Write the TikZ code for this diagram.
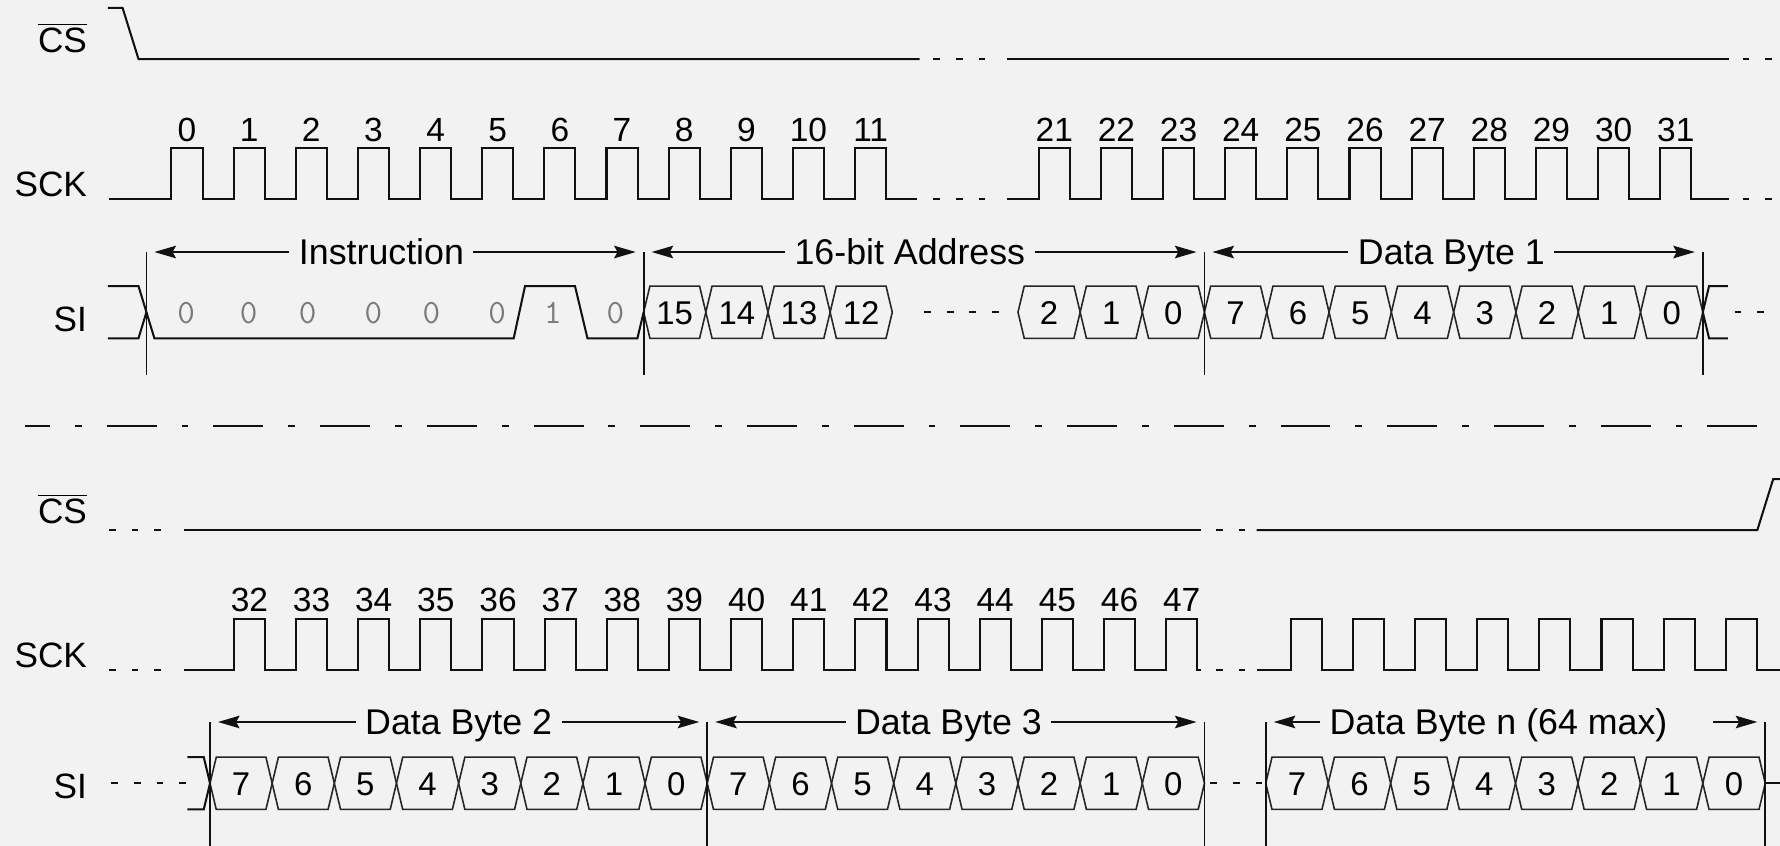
\documentclass[tikz,border=0pt]{standalone}
\usepackage{fontspec}
\setmainfont{Liberation Sans}
\usetikzlibrary{arrows.meta}

\definecolor{bg}{HTML}{F2F2F2}
\definecolor{ink}{HTML}{111111}
\definecolor{busink}{HTML}{262626}
\definecolor{bitgray}{HTML}{7A7A7A}

\tikzset{
  sig/.style={draw=ink, line width=0.9pt},
  bus/.style={draw=busink, line width=0.7pt},
  gapline/.style={draw=ink, line width=0.8pt, dash pattern=on 3pt off 7pt},
  sepline/.style={draw=ink, line width=0.8pt, dash pattern=on 22pt off 11pt on 3pt off 11pt, dash phase=11pt},
  marker/.style={draw=ink, line width=0.8pt},
  span/.style={draw=ink, line width=0.8pt, -{Stealth[length=9.5pt,width=5.5pt,inset=1.5pt]}, shorten >=3.5pt},
  signame/.style={anchor=base east, font=\fontsize{15.5}{18}\selectfont, inner sep=0pt},
  clknum/.style={anchor=base, font=\fontsize{14.75}{17}\selectfont, inner sep=0pt},
  bitval/.style={anchor=base, font=\ttfamily\fontsize{15}{17}\selectfont, text=bitgray, inner sep=0pt},
  busval/.style={anchor=base, font=\fontsize{14.5}{17}\selectfont, inner sep=0pt},
  fieldname/.style={anchor=base, font=\fontsize{15.75}{18}\selectfont, inner xsep=4pt, inner ysep=0pt},
}

% one bus cell per entry: start x, mid y, cell width, name prefix, values
\newcommand\buscells[5]{%
  \foreach \bv [count=\cnt from 0] in {#5} {
    \draw[bus] ({#1+#3*\cnt},#2) -- ++(5.5,-23) -- ++(#3-11,0) -- ++(5.5,23)
      -- ++(-5.5,23) -- ++(11-#3,0) -- cycle;
    \node[busval] (#4\bv) at ({#1+#3*(\cnt+0.5)},#2+10.5) {\bv};
  }}

\begin{document}
\begin{tikzpicture}[x=0.5pt,y=-0.5pt]
  \path[fill=bg,use as bounding box] (0,0) rectangle (1568,745);

  % signal names
  \node[signame] (cs1) at (77,46) {$\overline{\mbox{CS}}$};
  \node[signame] (sck1) at (77,173) {SCK};
  \node[signame] (si1) at (77,292) {SI};
  \node[signame] (cs2) at (77,461) {$\overline{\mbox{CS}}$};
  \node[signame] (sck2) at (77,588) {SCK};
  \node[signame] (si2) at (77,703) {SI};

  % CS, upper half
  \draw[sig] (95,7) -- (108,7) -- (122,52) -- (810,52);
  \draw[gapline] (822,52) -- (880,52);
  \draw[sig] (887,52) -- (1523,52);
  \draw[gapline] (1535,52) -- (1568,52);

  % SCK, clocks 0-11 and 21-31
  \draw[sig] (96,175) \foreach \k in {0,...,11} {-- ({151+54.75*\k},175) -- ++(0,-45) -- ++(27.4,0) -- ++(0,45)} -- (808,175);
  \draw[gapline] (822,175) -- (880,175);
  \draw[sig] (887,175) \foreach \k in {21,...,31} {-- ({915+54.75*(\k-21)},175) -- ++(0,-45) -- ++(27.4,0) -- ++(0,45)} -- (1523,175);
  \draw[gapline] (1535,175) -- (1568,175);
  \foreach \k in {0,...,11}
    \node[clknum] (k\k) at ({164.7+54.75*\k},125) {\k};
  \foreach \k in {21,...,31}
    \node[clknum] (k\k) at ({928.7+54.75*(\k-21)},125) {\k};

  % SI, upper half
  \draw[sig] (95,252) -- (122,252) -- (136,298) -- (452.5,298) -- (462.5,252) -- (506.5,252) -- (517.5,298) -- (561.5,298) -- (567,275);
  \draw[sig] (95,298) -- (122,298) -- (129,275);
  \foreach \x/\bv [count=\cnt from 0] in {164/0,219/0,271/0,329/0,380/0,438/0,487/1,542/0}
    \node[bitval] (i\cnt) at (\x,285) {\bv};
  \buscells{567}{275}{54.75}{a}{15,14,13,12}
  \draw[gapline] (814,275) -- (888,275);
  \buscells{896.75}{275}{54.75}{a}{2,1,0}
  \buscells{1061}{275}{54.875}{d1-}{7,...,0}
  \draw[sig] (1522,252) -- (1505.5,252) -- (1500,275) -- (1505.5,298) -- (1522,298);
  \draw[gapline] (1528,275) -- (1568,275);

  % field markers, upper half
  \coordinate (m0) at (129,222);
  \coordinate (m1) at (567,222);
  \coordinate (m2) at (1061,222);
  \coordinate (m3) at (1500,222);
  \foreach \m in {m0,m1,m2,m3}
    \draw[marker] (\m) -- ++(0,108);
  \node[fieldname] (instr) at (336,233) {Instruction};
  \draw[span] (instr.west |- m0) -- (m0);
  \draw[span] (instr.east |- m0) -- (m1);
  \node[fieldname] (addr) at (801.5,233) {16-bit Address};
  \draw[span] (addr.west |- m1) -- (m1);
  \draw[span] (addr.east |- m1) -- (m2);
  \node[fieldname] (db1) at (1278.5,233) {Data Byte 1};
  \draw[span] (db1.west |- m2) -- (m2);
  \draw[span] (db1.east |- m2) -- (m3);

  % break
  \draw[sepline] (22,375) -- (1555,375);

  % CS, lower half
  \draw[gapline] (96,467) -- (150,467);
  \draw[sig] (162,467) -- (1058,467);
  \draw[gapline] (1071,467) -- (1100,467);
  \draw[sig] (1107,467) -- (1548,467) -- (1562,422) -- (1568,422);

  % SCK, clocks 32-47 and the last byte
  \draw[gapline] (96,590) -- (150,590);
  \draw[sig] (162,590) \foreach \k in {32,...,47} {-- ({206+54.75*(\k-32)},590) -- ++(0,-45) -- ++(27.4,0) -- ++(0,45)} -- (1058,590);
  \draw[gapline] (1071,590) -- (1100,590);
  \draw[sig] (1107,590) \foreach \k in {0,...,7} {-- ({1137+54.75*\k},590) -- ++(0,-45) -- ++(27.4,0) -- ++(0,45)} -- (1568,590);
  \foreach \k in {32,...,47}
    \node[clknum] (k\k) at ({219.7+54.75*(\k-32)},539) {\k};

  % SI, lower half
  \draw[gapline] (98,690) -- (165,690);
  \draw[sig] (165,667) -- (179.5,667) -- (185,690) -- (179.5,713) -- (165,713);
  \buscells{185}{690}{54.75}{d2-}{7,...,0}
  \buscells{623}{690}{54.75}{d3-}{7,...,0}
  \draw[gapline] (1066,690) -- (1112,690);
  \buscells{1115}{690}{55}{dn-}{7,...,0}
  \draw[sig] (1555,690) -- (1568,690);

  % field markers, lower half
  \coordinate (n0) at (185,636);
  \coordinate (n1) at (623,636);
  \coordinate (n2) at (1061,636);
  \coordinate (n3) at (1115,636);
  \coordinate (n4) at (1555,636);
  \foreach \m in {n0,n1,n2,n3,n4}
    \draw[marker] (\m) -- ++(0,109);
  \node[fieldname] (db2) at (404,647) {Data Byte 2};
  \draw[span] (db2.west |- n0) -- (n0);
  \draw[span] (db2.east |- n0) -- (n1);
  \node[fieldname] (db3) at (835.5,647) {Data Byte 3};
  \draw[span] (db3.west |- n1) -- (n1);
  \draw[span] (db3.east |- n1) -- (n2);
  \node[fieldname] (dbn) at (1320,647) {Data Byte n (64 max)};
  \coordinate (dbnr) at (1509,636);
  \draw[span] (dbn.west |- n3) -- (n3);
  \draw[span] (dbnr) -- (n4);
\end{tikzpicture}
\end{document}
